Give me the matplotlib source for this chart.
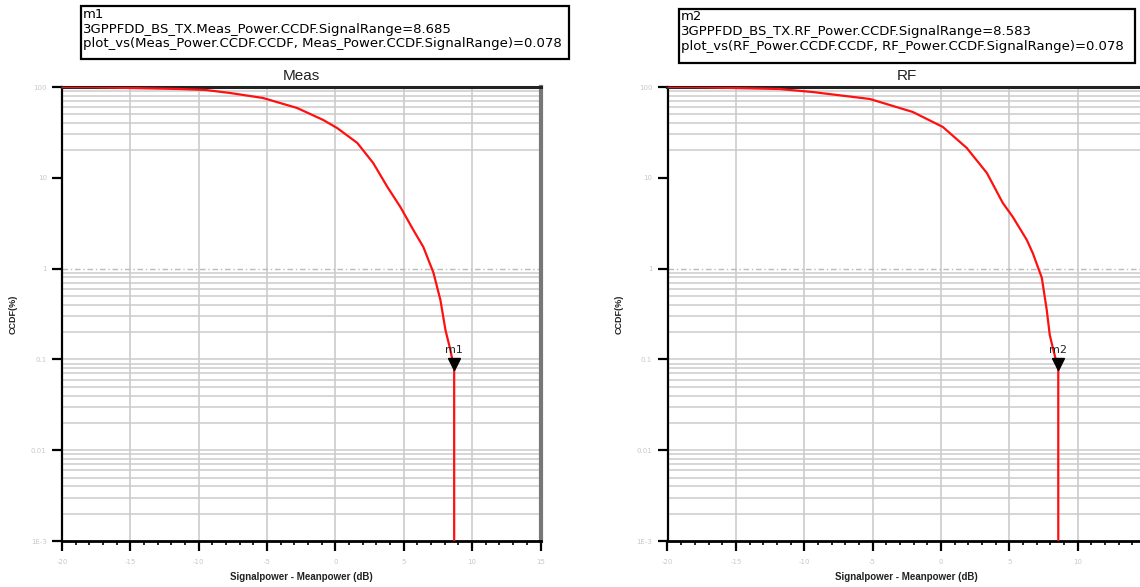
import numpy as np
import matplotlib
matplotlib.use('Agg')
import matplotlib.pyplot as plt
import matplotlib.transforms as mtransforms
from matplotlib.patches import Rectangle

# CCDF curves (x in dB, y in %)
meas_x = [-20.0, -17.8, -11.4, -9.5, -7.7, -5.3, -2.8, -0.9, 0.13, 1.6, 2.77, 3.8, 4.75, 5.7, 6.43, 7.17, 7.68, 8.05, 8.41, 8.685, 8.685]
meas_y = [100.0, 99.5, 95.0, 92.7, 85.9, 75.7, 58.7, 43.4, 35.3, 24.2, 14.5, 7.93, 4.77, 2.66, 1.73, 0.90, 0.45, 0.21, 0.127, 0.078, 0.001]

rf_x = [-20.0, -17.8, -11.8, -9.4, -5.2, -2.06, 0.14, 1.89, 3.36, 4.52, 5.26, 6.28, 6.72, 7.38, 7.74, 7.96, 8.18, 8.583, 8.583]
rf_y = [100.0, 99.5, 95.0, 88.1, 73.8, 53.1, 36.3, 21.3, 11.3, 5.3, 3.7, 2.07, 1.48, 0.79, 0.35, 0.186, 0.135, 0.078, 0.001]

markers = [('m1', 8.685, 0.078), ('m2', 8.583, 0.078)]
titles = ['Meas', 'RF']
box_texts = [
    'm1\n3GPPFDD_BS_TX.Meas_Power.CCDF.SignalRange=8.685\n'
    'plot_vs(Meas_Power.CCDF.CCDF, Meas_Power.CCDF.SignalRange)=0.078',
    'm2\n3GPPFDD_BS_TX.RF_Power.CCDF.SignalRange=8.583\n'
    'plot_vs(RF_Power.CCDF.CCDF, RF_Power.CCDF.SignalRange)=0.078',
]

xticks = [-20, -15, -10, -5, 0, 5, 10, 15]
xticklabels = ['-20', '-15', '-10', '-5', '0', '5', '10', '15']
yticks = [0.001, 0.01, 0.1, 1, 10, 100]
yticklabels = ['1E-3', '0.01', '0.1', '1', '10', '100']

W, H = 1140, 587
fig = plt.figure(figsize=(W / 100, H / 100), dpi=100)
fig.patch.set_facecolor('white')

grid_c = '#cccccc'
axes_left = [62, 667.5]
ax_w, ax_top, ax_bot = 478.5, 87, 541
ax_h = ax_bot - ax_top

for i, (xs, ys) in enumerate([(meas_x, meas_y), (rf_x, rf_y)]):
    x0 = axes_left[i]
    ax = fig.add_axes([x0 / W, 1 - ax_bot / H, ax_w / W, ax_h / H])
    ax.set_yscale('log')
    ax.set_xlim(-20, 15)
    ax.set_ylim(0.001, 100)

    # grid: vertical lines at major x ticks
    for xv in xticks[1:-1]:
        ax.axvline(xv, color=grid_c, lw=1.2, zorder=1)
    # minor horizontal lines (decade 1-10 drawn without them, as in the source)
    for dec in [0.001, 0.01, 0.1, 10]:
        for k in range(2, 10):
            ax.axhline(dec * k, color=grid_c, lw=1.1, zorder=1)
    for yv in [0.01, 0.1]:
        ax.axhline(yv, color=grid_c, lw=1.1, zorder=1)
    ax.axhline(1, color='#bbbbbb', lw=1.0, ls=(0, (4, 2, 1, 2)), zorder=1)

    ax.plot(xs, ys, color='#ff1010', lw=1.6, zorder=3)

    name, mx, my = markers[i]
    tr = mtransforms.offset_copy(ax.transData, fig=fig, y=4, units='points')
    ax.plot([mx], [my], marker='v', color='black', markersize=8, transform=tr, zorder=5)
    ax.annotate(name, xy=(mx, my), xytext=(0, 10), textcoords='offset points',
                ha='center', va='bottom', fontsize=8, color='#222222', zorder=6)

    labels = list(xticklabels)
    if i == 1:
        labels[-1] = ''  # right panel runs past the picture edge
    ax.set_xticks(xticks)
    ax.set_xticklabels(labels)
    ax.set_xticks(np.arange(-19, 15, 1), minor=True)
    ax.set_yticks(yticks)
    ax.set_yticklabels(yticklabels)
    ax.yaxis.set_minor_locator(matplotlib.ticker.NullLocator())
    ax.tick_params(axis='both', which='major', direction='out', length=7, width=1.6,
                   colors='black', labelcolor='#c8c8c8', labelsize=5)
    ax.tick_params(axis='x', which='minor', direction='out', length=3, width=1.2, color='black')
    ax.tick_params(axis='x', pad=6)
    ax.tick_params(axis='y', pad=4)

    ax.spines['top'].set_linewidth(2.2)
    ax.spines['top'].set_color('#222222')
    ax.spines['bottom'].set_linewidth(2.0)
    ax.spines['left'].set_linewidth(1.6)
    ax.spines['right'].set_linewidth(3.0)
    ax.spines['right'].set_color('#777777')

    ax.set_title(titles[i], fontsize=11, color='#222222', pad=5, family='Liberation Sans')
    ax.set_xlabel('Signalpower - Meanpower (dB)', fontsize=7, fontweight='bold',
                  color='#222222', family='Liberation Sans')
    ax.xaxis.set_label_coords(0.5, (ax_bot - 572) / ax_h)
    ax.set_ylabel('CCDF(%)', fontsize=6.5, fontweight='bold', color='#222222',
                  family='Liberation Sans')
    ax.yaxis.set_label_coords(-44 / ax_w, 0.5)

# marker readout boxes
boxes = [(80.7, 6.5, 569, 59), (679, 9, 1135, 62.5)]
for (bx0, by0, bx1, by1), txt in zip(boxes, box_texts):
    fig.patches.append(Rectangle((bx0 / W, 1 - by1 / H), (bx1 - bx0) / W, (by1 - by0) / H,
                                 transform=fig.transFigure, fill=False, edgecolor='black', lw=1.6))
    fig.text((bx0 + 2) / W, 1 - (by0 + 1) / H, txt, ha='left', va='top', fontsize=9.5,
             family='DejaVu Sans', color='black', linespacing=1.2)

plt.savefig('out.png', dpi=100, format='png')
